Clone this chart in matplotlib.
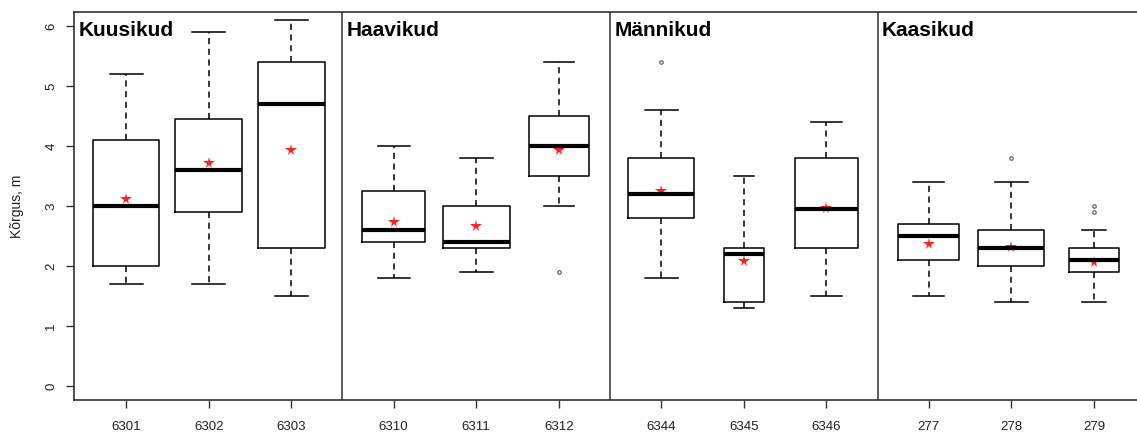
import matplotlib
matplotlib.use("Agg")
import matplotlib.pyplot as plt

plt.rcParams['font.family'] = ['Liberation Sans', 'DejaVu Sans']

labels = ["6301", "6302", "6303", "6310", "6311", "6312",
          "6344", "6345", "6346", "277", "278", "279"]
groups = ["Kuusikud", "Haavikud", "Männikud", "Kaasikud"]
whislo = [1.7, 1.7, 1.5, 1.8, 1.9, 3.0, 1.8, 1.3, 1.5, 1.5, 1.4, 1.4]
q1     = [2.0, 2.9, 2.3, 2.4, 2.3, 3.5, 2.8, 1.4, 2.3, 2.1, 2.0, 1.9]
med    = [3.0, 3.6, 4.7, 2.6, 2.4, 4.0, 3.2, 2.2, 2.95, 2.5, 2.3, 2.1]
q3     = [4.1, 4.45, 5.4, 3.25, 3.0, 4.5, 3.8, 2.3, 3.8, 2.7, 2.6, 2.3]
whishi = [5.2, 5.9, 6.1, 4.0, 3.8, 5.4, 4.6, 3.5, 4.4, 3.4, 3.4, 2.6]
means  = [3.12, 3.71, 3.93, 2.74, 2.66, 3.93, 3.25, 2.09, 2.97, 2.37, 2.32, 2.06]
outliers = [[], [], [], [], [], [1.9], [5.4], [], [], [], [3.8], [2.9, 3.0]]
widths = [0.80, 0.81, 0.81, 0.77, 0.81, 0.72, 0.80, 0.48, 0.76, 0.74, 0.80, 0.60]

gap = 1.24
positions = [1 + i + (gap - 1) * (i // 3) for i in range(12)]

fig = plt.figure(figsize=(11.37, 4.34), dpi=100)
ax = fig.add_axes([74/1137, 34/434, 1 - 74/1137 + 0.002, 388/434])

stats = []
for i in range(12):
    stats.append(dict(whislo=whislo[i], q1=q1[i], med=med[i], q3=q3[i],
                      whishi=whishi[i], fliers=outliers[i], label=labels[i]))

ax.bxp(stats, positions=positions, widths=widths, showfliers=True,
       boxprops=dict(color='black', linewidth=1.1),
       medianprops=dict(color='black', linewidth=3.0, solid_capstyle='butt'),
       whiskerprops=dict(color='black', linewidth=1.1, linestyle=(0, (4, 3))),
       capprops=dict(color='black', linewidth=1.1),
       flierprops=dict(marker='o', markersize=2.5, markerfacecolor='none',
                       markeredgecolor='#555555', markeredgewidth=0.8),
       capwidths=[w * 0.5 for w in widths])

ax.plot(positions, means, linestyle='none', marker='*', color='#ff2020',
        markersize=8.5, markeredgewidth=0)

# group separators and titles
seps = [(positions[3*g - 1] + positions[3*g]) / 2 for g in range(1, 4)]
for s in seps:
    ax.axvline(s, color='#333333', linewidth=1.1)

xmin = positions[0] - (126 - 74) / 82.4
xmax = positions[0] + (1137 - 126) / 82.4
ax.set_xlim(xmin, xmax)
ax.set_ylim(-0.233, 6.233)

title_x = [xmin] + seps
for g, name in enumerate(groups):
    ax.text(title_x[g] + 0.05, 5.83, name, fontsize=15, fontweight='bold',
            ha='left', va='baseline', color='black')

ax.set_xticks(positions)
ax.set_xticklabels(labels)
ax.set_yticks(range(0, 7))
ax.set_yticklabels([str(v) for v in range(0, 7)], rotation=90, va='center')
ax.tick_params(axis='both', direction='out', length=6, width=1,
               color='#333333', labelsize=9.5, labelcolor='#222222')
ax.tick_params(axis='x', pad=9)
ax.tick_params(axis='y', pad=6)
ax.set_ylabel("Kõrgus, m", fontsize=10, color='#222222')
ax.yaxis.set_label_coords(-(74 - 24) / 1063, 0.5)

for side in ['left', 'top', 'bottom']:
    ax.spines[side].set_color('#333333')
    ax.spines[side].set_linewidth(1.2)
ax.spines['right'].set_visible(False)

fig.savefig("out.png", dpi=100)
